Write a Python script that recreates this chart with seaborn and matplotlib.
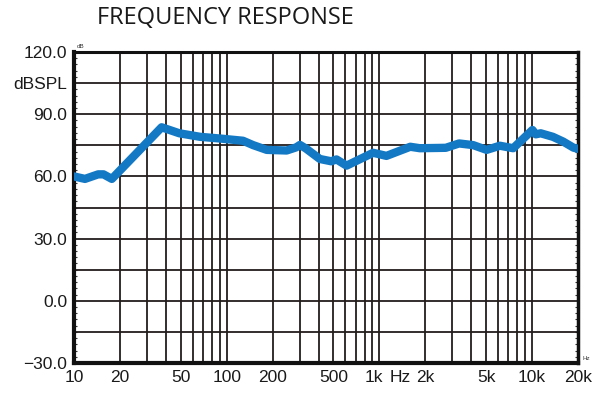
import matplotlib
matplotlib.use("Agg")
import matplotlib.pyplot as plt
import matplotlib.ticker as mticker
from matplotlib.transforms import ScaledTranslation
import numpy as np
import pandas as pd
import seaborn as sns

# frequency response
freq_hz = [10, 11.8, 14.4, 15.6, 17.7, 37.5, 49, 67, 90, 128, 149, 183, 247,
           285, 302, 330, 408, 484, 524, 610, 911, 1113, 1594, 1843, 2724,
           3330, 4117, 5040, 6160, 7530, 10060, 10580, 11400, 13700, 16000,
           18650, 20000]
level_db = [60.0, 58.8, 61.0, 61.0, 58.8, 83.7, 80.8, 79.1, 78.3, 77.2, 75.1,
            72.8, 72.5, 74.0, 75.2, 73.5, 68.4, 67.3, 68.2, 65.2, 71.4, 69.9,
            74.3, 73.6, 73.8, 75.9, 75.1, 72.8, 74.8, 73.6, 82.4, 80.3, 80.8,
            79.1, 76.8, 73.9, 73.3]

x_ticks = [10, 20, 50, 100, 200, 500, 1000, 2000, 5000, 10000, 20000]
x_labels = ["10", "20", "50", "100", "200", "500", "1k", "2k", "5k", "10k", "20k"]
y_ticks = [-30, 0, 30, 60, 90, 105, 120]
y_labels = ["\u221230.0", "0.0", "30.0", "60.0", "90.0", "dBSPL", "120.0"]

df = pd.DataFrame({"freq": freq_hz, "level": level_db})

sns.set_style("white")
plt.rcParams["font.family"] = ["Liberation Sans", "DejaVu Sans"]

fig = plt.figure(figsize=(6, 3.98), dpi=100)
ax = fig.add_axes([0.1233, 0.0879, 0.84, 0.7814])

# grid lines: every decade step on x, every 15 dB on y
grid_x = [f * m for m in (10, 100, 1000) for f in range(2, 10)] + [100, 1000, 10000]
for gx in grid_x:
    ax.axvline(gx, color="#231c1c", lw=1.3, zorder=1)
for gy in np.arange(-15, 120, 15):
    ax.axhline(gy, color="#231c1c", lw=1.3, zorder=1)

sns.lineplot(data=df, x="freq", y="level", ax=ax, color="#1479c4", lw=6,
             solid_capstyle="round", solid_joinstyle="round", zorder=3)

ax.set_xscale("log")
ax.set_xlim(10, 20000)
ax.set_ylim(-30, 120)
ax.set_xticks(x_ticks)
ax.set_xticklabels(x_labels)
ax.xaxis.set_minor_locator(mticker.NullLocator())
ax.set_yticks(y_ticks)
ax.set_yticklabels(y_labels)
ax.yaxis.set_minor_locator(mticker.MultipleLocator(3))
ax.tick_params(axis="both", which="major", length=0, labelsize=12.5,
               colors="#1a1a1a", pad=5)
ax.tick_params(axis="y", which="minor", direction="in", length=2.5,
               width=0.8, left=True, right=True, color="#333333")
ax.set_xlabel("")
ax.set_ylabel("")

# the "1k" label sits a little left to make room for "Hz"
lab_1k = ax.get_xticklabels()[6]
lab_1k.set_transform(lab_1k.get_transform() +
                     ScaledTranslation(-5 / 100, 0, fig.dpi_scale_trans))

for side, w in (("left", 3.0), ("bottom", 3.0), ("top", 2.2), ("right", 2.5)):
    ax.spines[side].set_visible(True)
    ax.spines[side].set_linewidth(w)
    ax.spines[side].set_color("#111111")

ax.annotate("Hz", xy=(1370, 0), xycoords=("data", "axes fraction"),
            xytext=(0, -5), textcoords="offset points", ha="center", va="top",
            fontsize=12.5, color="#1a1a1a")
ax.text(10.4, 121.5, "dB", ha="left", va="bottom", fontsize=4.5, color="#333333")
ax.text(21500, -29, "Hz", ha="left", va="bottom", fontsize=4.5, color="#333333",
        clip_on=False)

fig.text(0.375, 0.955, "FREQUENCY RESPONSE", ha="center", va="center",
         fontsize=17, family=["Open Sans", "DejaVu Sans"], color="#1a1a1a")

fig.savefig("out.png", dpi=100)
